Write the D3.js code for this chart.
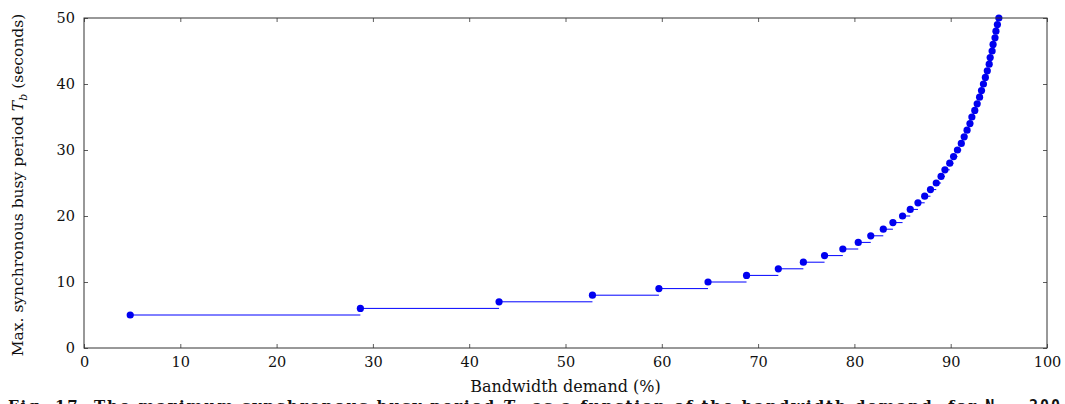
<!DOCTYPE html>
<html>
<head>
<meta charset="utf-8">
<script src="https://cdn.jsdelivr.net/npm/d3@7"></script>
<style>
  body { margin: 0; background: #fff; overflow: hidden; }
  svg text { font-family: "DejaVu Serif", "Liberation Serif", serif; }
</style>
</head>
<body>
<script>
// busy period Tb (seconds) and bandwidth demand (%) where it is first reached
var busyPeriod = [5, 6, 7, 8, 9, 10, 11, 12, 13, 14, 15, 16, 17, 18, 19, 20,
  21, 22, 23, 24, 25, 26, 27, 28, 29, 30, 31, 32, 33, 34, 35, 36, 37, 38, 39,
  40, 41, 42, 43, 44, 45, 46, 47, 48, 49, 50];
var demand = [4.8, 28.7, 43.1, 52.8, 59.7, 64.8, 68.8, 72.1, 74.7, 76.9, 78.8,
  80.4, 81.7, 83.0, 84.0, 85.0, 85.8, 86.6, 87.3, 87.9, 88.5, 89.0, 89.4, 89.9,
  90.3, 90.7, 91.1, 91.4, 91.7, 92.0, 92.2, 92.5, 92.75, 93.0, 93.2, 93.4, 93.6,
  93.8, 94.0, 94.1, 94.3, 94.4, 94.6, 94.7, 94.85, 95.0];
var xTicks = [0, 10, 20, 30, 40, 50, 60, 70, 80, 90, 100];
var yTicks = [0, 10, 20, 30, 40, 50];

var width = 1065, height = 404;
var margin = { left: 84, right: 18, top: 18, bottom: 56 };
var serif = "'DejaVu Serif', 'Liberation Serif', serif";

var svg = d3.select("body").append("svg")
  .attr("width", width)
  .attr("height", height);

var x = d3.scaleLinear().domain([0, 100]).range([margin.left, width - margin.right]);
var y = d3.scaleLinear().domain([0, 50]).range([height - margin.bottom, margin.top]);

var points = busyPeriod.map(function(d, i) { return { x: demand[i], y: d }; });

// horizontal step segments, each running to where the next value starts
var g = svg.append("g");
g.selectAll("line.step")
  .data(points.slice(0, -1))
  .enter().append("line")
  .attr("class", "step")
  .attr("x1", function(d) { return x(d.x); })
  .attr("x2", function(d, i) { return x(points[i + 1].x); })
  .attr("y1", function(d) { return y(d.y); })
  .attr("y2", function(d) { return y(d.y); })
  .attr("stroke", "#0000ff")
  .attr("stroke-width", 1);

g.selectAll("circle")
  .data(points)
  .enter().append("circle")
  .attr("cx", function(d) { return x(d.x); })
  .attr("cy", function(d) { return y(d.y); })
  .attr("r", 3.6)
  .attr("fill", "#0000f0");

// frame with inward ticks on all four sides
var axisColor = "#333";
function styleAxis(sel) {
  sel.attr("font-family", null);
  sel.select(".domain").remove();
  sel.selectAll(".tick line").attr("stroke", axisColor).attr("stroke-width", 0.8);
  sel.selectAll(".tick text")
    .style("font-family", serif)
    .style("font-size", "14.5px")
    .attr("fill", "#111");
}

svg.append("g")
  .attr("transform", "translate(0," + y(0) + ")")
  .call(d3.axisBottom(x).tickValues(xTicks).tickSize(-4).tickPadding(9).tickFormat(d3.format("d")))
  .call(styleAxis);
svg.append("g")
  .attr("transform", "translate(0," + y(50) + ")")
  .call(d3.axisTop(x).tickValues(xTicks).tickSize(-4).tickFormat(""))
  .call(styleAxis);
svg.append("g")
  .attr("transform", "translate(" + x(0) + ",0)")
  .call(d3.axisLeft(y).tickValues(yTicks).tickSize(-4).tickPadding(9).tickFormat(d3.format("d")))
  .call(styleAxis);
svg.append("g")
  .attr("transform", "translate(" + x(100) + ",0)")
  .call(d3.axisRight(y).tickValues(yTicks).tickSize(-4).tickFormat(""))
  .call(styleAxis);

svg.append("rect")
  .attr("x", x(0)).attr("y", y(50))
  .attr("width", x(100) - x(0)).attr("height", y(0) - y(50))
  .attr("fill", "none").attr("stroke", axisColor).attr("stroke-width", 1);

// axis titles
svg.append("text")
  .attr("x", (x(0) + x(100)) / 2)
  .attr("y", 392)
  .attr("text-anchor", "middle")
  .style("font-size", "16px")
  .attr("fill", "#111")
  .text("Bandwidth demand (%)");

var yl = svg.append("text")
  .attr("transform", "translate(23," + ((y(0) + y(50)) / 2 + 2) + ") rotate(-90)")
  .attr("text-anchor", "middle")
  .style("font-size", "15.5px")
  .attr("fill", "#111");
yl.append("tspan").text("Max. synchronous busy period ");
yl.append("tspan").style("font-style", "italic").text("T");
yl.append("tspan").style("font-style", "italic").style("font-size", "11px").attr("dy", 4).text("b");
yl.append("tspan").attr("dy", -4).text(" (seconds)");

// caption, cut by the bottom edge as in the source figure
var cap = svg.append("text")
  .attr("x", 8)
  .attr("y", 411)
  .attr("textLength", 1052)
  .attr("lengthAdjust", "spacing")
  .style("font-size", "15px")
  .style("font-weight", "bold")
  .attr("fill", "#111");
cap.append("tspan").text("Fig. 17.");
cap.append("tspan").text("  The maximum synchronous busy period ");
cap.append("tspan").style("font-style", "italic").text("T");
cap.append("tspan").style("font-style", "italic").style("font-size", "10px").attr("dy", 3).text("b");
cap.append("tspan").attr("dy", -3).text(" as a function of the bandwidth demand, for ");
cap.append("tspan").style("font-family", "'DejaVu Sans Mono', monospace").text("N = 200");
</script>
</body>
</html>
